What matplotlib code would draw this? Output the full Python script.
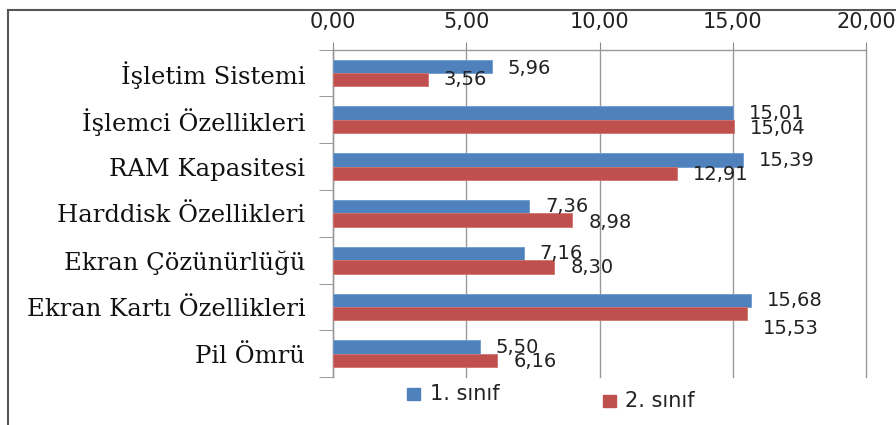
import matplotlib
matplotlib.use("Agg")
import matplotlib.pyplot as plt
from matplotlib.patches import Rectangle
from matplotlib.lines import Line2D
import numpy as np

categories = ["İşletim Sistemi", "İşlemci Özellikleri", "RAM Kapasitesi",
              "Harddisk Özellikleri", "Ekran Çözünürlüğü", "Ekran Kartı Özellikleri",
              "Pil Ömrü"]
sinif1 = [5.96, 15.01, 15.39, 7.36, 7.16, 15.68, 5.50]
sinif2 = [3.56, 15.04, 12.91, 8.98, 8.30, 15.53, 6.16]
xticks = [0, 5, 10, 15, 20]

# label nudges in pixels (Excel labels were dragged around by hand)
dy1 = [-2, 0, -1, 0, 0, 0, 0]
dy2 = [0, -2, -1, -2, -1, -15, -1]

BLUE = "#4F81BD"
RED = "#C0504D"
W, H = 896, 425

fig = plt.figure(figsize=(W / 100, H / 100), dpi=100)
ax = fig.add_axes([333 / W, 1 - 377.2 / H, (866 - 333) / W, (377.2 - 49.6) / H])

y = np.arange(len(categories))
h = 0.285
ax.barh(y - h / 2, sinif1, height=h, color=BLUE, edgecolor="#6f9ad0", linewidth=0.6, zorder=3)
ax.barh(y + h / 2, sinif2, height=h, color=RED, edgecolor="#d07370", linewidth=0.6, zorder=3)

fmt = lambda v: f"{v:.2f}".replace(".", ",")
for i in range(len(categories)):
    ax.annotate(fmt(sinif1[i]), (sinif1[i], y[i] - h / 2), xytext=(16, dy1[i]),
                textcoords="offset pixels", va="center", ha="left", fontsize=14,
                color="#222222", zorder=4)
    ax.annotate(fmt(sinif2[i]), (sinif2[i], y[i] + h / 2), xytext=(16, dy2[i]),
                textcoords="offset pixels", va="center", ha="left", fontsize=14,
                color="#222222", zorder=4)

ax.set_xlim(0, 20)
ax.set_ylim(len(categories) - 0.5, -0.5)
ax.xaxis.tick_top()
ax.set_xticks(xticks)
ax.set_xticklabels([fmt(v) for v in xticks], fontsize=15, color="#222222")
ax.tick_params(axis="x", length=6, color="#888888", pad=7)
ax.grid(axis="x", color="#999999", linewidth=1.0, zorder=0)
for gl in ax.get_xgridlines():
    gl.set_clip_on(False)

ax.set_yticks(y)
ax.set_yticklabels(categories, family="DejaVu Serif", fontsize=17.5, color="#111111")
ax.set_yticks(np.arange(-0.5, len(categories) + 0.5, 1), minor=True)
ax.tick_params(axis="y", which="major", length=0, pad=20)
ax.tick_params(axis="y", which="minor", length=10, color="#888888")

for s in ("right", "bottom"):
    ax.spines[s].set_visible(False)
for s in ("left", "top"):
    ax.spines[s].set_color("#999999")
    ax.spines[s].set_linewidth(1.0)

# legend items, placed by hand like the original
fig.patches.append(Rectangle((407 / W, 1 - 400 / H), 13 / W, 12 / H,
                             transform=fig.transFigure, color=BLUE))
fig.text(430 / W, 1 - 394 / H, "1. sınıf", fontsize=15, va="center", color="#222222")
fig.patches.append(Rectangle((603 / W, 1 - 407 / H), 13 / W, 12 / H,
                             transform=fig.transFigure, color=RED))
fig.text(625 / W, 1 - 401 / H, "2. sınıf", fontsize=15, va="center", color="#222222")

# outer frame (only left and top edges are visible in the crop)
fig.add_artist(Line2D([8 / W, 8 / W], [0, 1 - 10 / H], transform=fig.transFigure,
                      color="#555555", linewidth=1.5))
fig.add_artist(Line2D([8 / W, 1], [1 - 10 / H, 1 - 10 / H], transform=fig.transFigure,
                      color="#555555", linewidth=1.5))

fig.savefig("out.png", dpi=100)
